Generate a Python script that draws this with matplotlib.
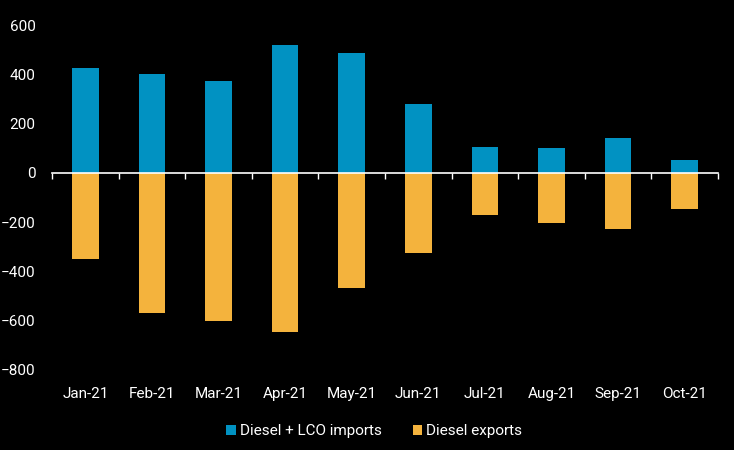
import numpy as np
import matplotlib.pyplot as plt

plt.rcParams['font.family'] = ['Roboto', 'DejaVu Sans']

# data (kb/d)
months = ["Jan-21", "Feb-21", "Mar-21", "Apr-21", "May-21",
          "Jun-21", "Jul-21", "Aug-21", "Sep-21", "Oct-21"]
imports = [427, 402, 374, 520, 488, 280, 106, 102, 142, 53]
exports = [-350, -569, -602, -646, -467, -325, -171, -203, -228, -146]

blue = "#0192C2"
yellow = "#F4B33D"

fig = plt.figure(figsize=(7.34, 4.5), dpi=100, facecolor="black")
ax = fig.add_axes([0.071, 0.178, 0.907, 0.766], facecolor="black")

x = np.arange(len(months))
ax.bar(x, imports, width=0.4, color=blue, label="Diesel + LCO imports")
ax.bar(x, exports, width=0.4, color=yellow, label="Diesel exports")

ax.set_xlim(-0.5, len(months) - 0.5)
ax.set_ylim(-800, 600)
ax.set_yticks(np.arange(-800, 601, 200))
ax.tick_params(axis="y", length=0, colors="white", labelsize=11, pad=12)

# zero line with small ticks at category boundaries
for s in ["top", "right", "left"]:
    ax.spines[s].set_visible(False)
ax.spines["bottom"].set_position(("data", 0))
ax.spines["bottom"].set_color("white")
ax.spines["bottom"].set_linewidth(1.2)
ax.set_xticks(np.arange(-0.5, len(months), 1.0))
ax.tick_params(axis="x", length=4, width=1, color="white", labelbottom=False)

# category labels along the bottom
sec = ax.secondary_xaxis(0.0)
sec.set_xticks(x)
sec.set_xticklabels(months)
sec.spines["bottom"].set_visible(False)
sec.tick_params(length=0, colors="white", labelsize=11, pad=12)

leg = fig.legend(loc="lower center", bbox_to_anchor=(0.51, -0.005), ncol=2,
                 frameon=False, fontsize=11, handlelength=0.6, handleheight=0.6,
                 handletextpad=0.3, columnspacing=2.0)
for t in leg.get_texts():
    t.set_color("white")

fig.savefig("out.png", dpi=100, facecolor="black")
